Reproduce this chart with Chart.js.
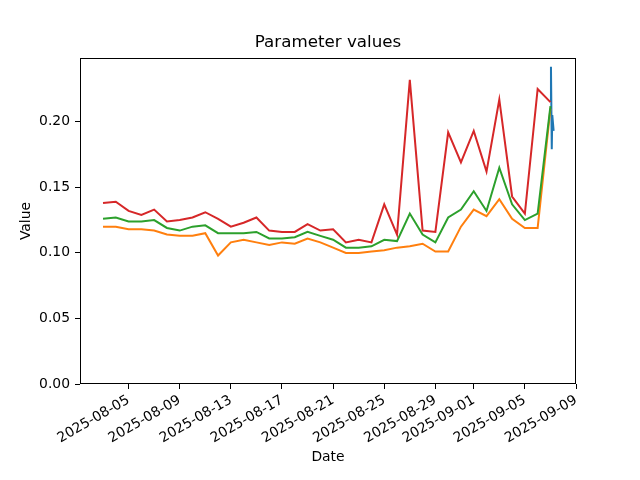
<!DOCTYPE html>
<html>
<head>
<meta charset="utf-8">
<script src="https://cdn.jsdelivr.net/npm/chart.js@4"></script>
<style>
  body { margin: 0; background: #fff; }
  #c { display: block; }
</style>
</head>
<body>
<canvas id="c" width="640" height="480"></canvas>
<script>
// daily dates for the three long series
var dates = [
  '2025-08-03','2025-08-04','2025-08-05','2025-08-06','2025-08-07','2025-08-08',
  '2025-08-09','2025-08-10','2025-08-11','2025-08-12','2025-08-13','2025-08-14',
  '2025-08-15','2025-08-16','2025-08-17','2025-08-18','2025-08-19','2025-08-20',
  '2025-08-21','2025-08-22','2025-08-23','2025-08-24','2025-08-25','2025-08-26',
  '2025-08-27','2025-08-28','2025-08-29','2025-08-30','2025-08-31','2025-09-01',
  '2025-09-02','2025-09-03','2025-09-04','2025-09-05','2025-09-06','2025-09-07'
];

var orangeVals = [0.120, 0.120, 0.118, 0.118, 0.117, 0.114, 0.113, 0.113, 0.115, 0.098,
                  0.108, 0.110, 0.108, 0.106, 0.108, 0.107, 0.111, 0.108, 0.104, 0.100,
                  0.100, 0.101, 0.102, 0.104, 0.105, 0.107, 0.101, 0.101, 0.120, 0.133,
                  0.128, 0.141, 0.126, 0.119, 0.119, 0.210];

var greenVals = [0.126, 0.127, 0.124, 0.124, 0.125, 0.119, 0.117, 0.120, 0.121, 0.115,
                 0.115, 0.115, 0.116, 0.111, 0.111, 0.112, 0.116, 0.113, 0.110, 0.104,
                 0.104, 0.105, 0.110, 0.109, 0.130, 0.114, 0.108, 0.127, 0.133, 0.147,
                 0.132, 0.165, 0.137, 0.125, 0.130, 0.212];

var redVals = [0.138, 0.139, 0.132, 0.129, 0.133, 0.124, 0.125, 0.127, 0.131, 0.126,
               0.120, 0.123, 0.127, 0.117, 0.116, 0.116, 0.122, 0.117, 0.118, 0.108,
               0.110, 0.108, 0.137, 0.114, 0.232, 0.117, 0.116, 0.192, 0.169, 0.193,
               0.162, 0.217, 0.143, 0.130, 0.225, 0.215];

// short intraday series at the very end
var blueTimes = ['2025-09-07T00:00', '2025-09-07T01:00', '2025-09-07T02:30', '2025-09-07T03:30', '2025-09-07T06:00'];
var blueVals = [0.215, 0.242, 0.179, 0.205, 0.193];

var xTickLabels = ['2025-08-05','2025-08-09','2025-08-13','2025-08-17','2025-08-21',
                   '2025-08-25','2025-08-29','2025-09-01','2025-09-05','2025-09-09'];
var yTicks = [0, 0.05, 0.10, 0.15, 0.20];

// dates -> day numbers
function toDay(s) {
  if (s.length == 10) s = s + 'T00:00';
  return Date.parse(s + 'Z') / 86400000;
}
function dayLabel(v) {
  return new Date(Math.round(v * 86400000)).toISOString().slice(0, 10);
}
function pts(xs, ys) {
  return xs.map(function (x, i) { return { x: toDay(x), y: ys[i] }; });
}

var font = { family: 'DejaVu Sans', size: 13.9 };

var frame = {
  id: 'frame',
  // center the title over the plot area, like matplotlib
  afterLayout: function (chart) {
    if (chart.titleBlock) {
      chart.titleBlock.left = chart.chartArea.left;
      chart.titleBlock.right = chart.chartArea.right;
    }
  },
  afterDatasetsDraw: function (chart) {
    var a = chart.chartArea, ctx = chart.ctx;
    ctx.save();
    ctx.strokeStyle = '#000';
    ctx.lineWidth = 1;
    ctx.strokeRect(Math.round(a.left) + 0.5, Math.round(a.top) + 0.5,
                   Math.round(a.right - a.left) - 1, Math.round(a.bottom - a.top) - 1);
    ctx.restore();
  }
};

function line(label, data, color, order) {
  return {
    label: label, data: data, borderColor: color, backgroundColor: color,
    borderWidth: 2, pointRadius: 0, tension: 0, fill: false, order: order
  };
}

new Chart(document.getElementById('c'), {
  type: 'line',
  data: {
    datasets: [
      line('param 1', pts(blueTimes, blueVals), '#1f77b4', 4),
      line('param 2', pts(dates, orangeVals), '#ff7f0e', 3),
      line('param 3', pts(dates, greenVals), '#2ca02c', 2),
      line('param 4', pts(dates, redVals), '#d62728', 1)
    ]
  },
  options: {
    responsive: false,
    animation: false,
    layout: { padding: { left: 0, right: 64, top: 0, bottom: 0 } },
    plugins: {
      legend: { display: false },
      tooltip: { enabled: false },
      title: {
        display: true, text: 'Parameter values', color: '#000',
        font: { family: 'DejaVu Sans', size: 16.7, weight: 'normal' },
        padding: { top: 33, bottom: 5 }
      }
    },
    scales: {
      x: {
        type: 'linear',
        min: toDay('2025-08-01') + 0.2,
        max: toDay('2025-09-09'),
        afterBuildTicks: function (s) {
          s.ticks = xTickLabels.map(function (t) { return { value: toDay(t) }; });
        },
        afterFit: function (s) { s.height = 96; },
        border: { display: false },
        grid: { display: true, drawOnChartArea: false, drawTicks: true, tickLength: 5, color: '#000' },
        ticks: {
          color: '#000', font: font, padding: 3, minRotation: 30, maxRotation: 30,
          autoSkip: false,
          callback: function (v) { return dayLabel(v); }
        },
        title: { display: true, text: 'Date', color: '#000', font: font, padding: { top: 0, bottom: 14 } }
      },
      y: {
        min: 0,
        max: 0.2486,
        afterBuildTicks: function (s) {
          s.ticks = yTicks.map(function (t) { return { value: t }; });
        },
        afterFit: function (s) { s.width = 80; },
        border: { display: false },
        grid: { display: true, drawOnChartArea: false, drawTicks: true, tickLength: 5, color: '#000' },
        ticks: {
          color: '#000', font: font, padding: 5,
          callback: function (v) { return v.toFixed(2); }
        },
        title: { display: true, text: 'Value', color: '#000', font: font, padding: { top: 18, bottom: 0 } }
      }
    }
  },
  plugins: [frame]
});
</script>
</body>
</html>
